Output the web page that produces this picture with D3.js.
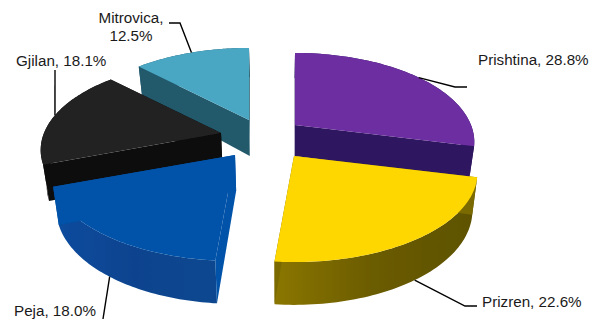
<!DOCTYPE html>
<html>
<head>
<meta charset="utf-8">
<script src="https://cdn.jsdelivr.net/npm/d3@7/dist/d3.min.js"></script>
<style>
html,body{margin:0;padding:0;background:#fff;overflow:hidden}
text{font-family:"Liberation Sans",Arial,sans-serif;font-size:15.2px;fill:#1a1a1a}
</style>
</head>
<body>
<svg id="chart" width="593" height="320"></svg>
<script>
// Data
const categories = ["Prishtina", "Prizren", "Peja", "Gjilan", "Mitrovica"];
const shares = [28.8, 22.6, 18.0, 18.1, 12.5];

// Styling and layout of the exploded 3D slices
const topColors = ["#6C2EA0", "#FFD700", "#0353A9", "#222222", "#49A7C4"];
const cutColors = ["#2E1560", "#7A6A00", "#0353A9", "#0C0C0C", "#235A6C"];
const wallStops = [
  ["#2E1560", "#2E1560"],
  ["#8A7600", "#6A5B00", "#5E5200"],
  ["#0A4C9E", "#08438F", "#0A478F"],
  ["#0C0C0C", "#0C0C0C"],
  ["#235A6C", "#235A6C"]
];
const apexX = [295, 294, 235, 221, 249];
const apexY = [125, 156, 155, 133, 120];
const radii = [176, 180, 181, 177, 177];
const depths = [31, 36, 36, 34, 36];
const drawOrder = [4, 0, 3, 2, 1];
const persp = 0.191, tilt = 85.8, depthGrow = 0.19, converge = 0.025, vanishX = 280;

// label layout: [lines], x, first baseline, anchor, leader points after the rim point
const labelLines = [["Prishtina, 28.8%"], ["Prizren, 22.6%"], ["Peja, 18.0%"], ["Gjilan, 18.1%"], ["Mitrovica,", "12.5%"]];
const labelX = [478, 482, 14, 16, 131];
const labelY = [65, 307, 316, 66, 23];
const labelAnchor = ["start", "start", "start", "start", "middle"];
const leaderPts = [
  [[455, 87], [467, 87]],
  [[465, 306], [477, 306]],
  [[103, 319]],
  [[55, 70]],
  [[180, 23], [169, 23]]
];
const leaderOnWall = [false, true, true, false, false];

const svg = d3.select("#chart");
const defs = svg.append("defs");
defs.append("filter").attr("id", "soft").attr("x", "-5%").attr("y", "-5%").attr("width", "110%").attr("height", "110%")
  .append("feGaussianBlur").attr("stdDeviation", 0.5);
const pieGen = d3.pie().sort(null).value(d => d)(shares);

function project(i, a, r, down) {
  const z = r * Math.cos(a), x = r * Math.sin(a), s = 1 + persp * z;
  let px = apexX[i] + radii[i] * x / s;
  let py = apexY[i] - tilt * z / s;
  if (down) {
    py += depths[i] * (1 - depthGrow * z);
    px -= (px - vanishX) * converge;
  }
  return [px, py];
}
const line = d3.line();
function arcPts(i, a0, a1, down) {
  const n = 64;
  return d3.range(n + 1).map(k => project(i, a0 + (a1 - a0) * k / n, 1, down));
}

drawOrder.forEach(i => {
  const p = pieGen[i], g = svg.append("g").attr("class", "slice").attr("filter", "url(#soft)");
  const a0 = p.startAngle, a1 = p.endAngle;
  const gid = "wall" + i;
  const gr = defs.append("linearGradient").attr("id", gid).attr("gradientUnits", "userSpaceOnUse")
    .attr("x1", project(i, a1, 1, false)[0]).attr("x2", project(i, a0, 1, false)[0]).attr("y1", 0).attr("y2", 0);
  const stops = wallStops[i];
  stops.forEach((c, k) => gr.append("stop").attr("offset", k / (stops.length - 1)).attr("stop-color", c));

  // outer wall
  g.append("path").attr("d", line(arcPts(i, a0, a1, false).concat(arcPts(i, a1, a0, true))) + "Z")
    .attr("fill", `url(#${gid})`);
  // radial cut faces
  [a0, a1].forEach(a => {
    const quad = [project(i, a, 0, false), project(i, a, 1, false), project(i, a, 1, true), project(i, a, 0, true)];
    g.append("path").attr("d", line(quad) + "Z").attr("fill", cutColors[i]);
  });
  // top face
  g.append("path").attr("d", line([project(i, a0, 0, false)].concat(arcPts(i, a0, a1, false))) + "Z")
    .attr("fill", topColors[i]);
});

// leaders and labels
categories.forEach((c, i) => {
  const mid = (pieGen[i].startAngle + pieGen[i].endAngle) / 2;
  const start = project(i, mid, 1, leaderOnWall[i]);
  svg.append("path").attr("d", line([start].concat(leaderPts[i])))
    .attr("fill", "none").attr("stroke", "#000").attr("stroke-width", 1.4);
  const t = svg.append("text").attr("x", labelX[i]).attr("y", labelY[i]).attr("text-anchor", labelAnchor[i]);
  labelLines[i].forEach((l, k) => t.append("tspan").attr("x", labelX[i]).attr("dy", k ? 18 : 0).text(l));
});
</script>
</body>
</html>
